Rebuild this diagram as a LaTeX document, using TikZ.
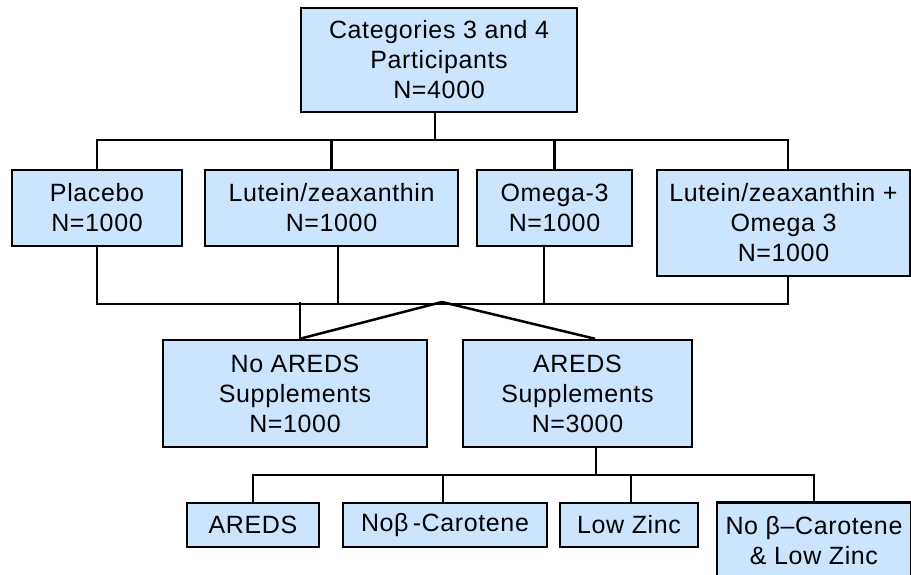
\documentclass[tikz,border=0pt]{standalone}
\usepackage{fontspec}
\setmainfont{Liberation Sans}[LetterSpace=2.5]
\definecolor{boxfill}{RGB}{204,229,255}
\begin{document}
\begin{tikzpicture}[x=1pt,y=-1pt,
  box/.style={draw, line width=2.5pt, fill=boxfill, inner sep=0pt, align=center,
    font=\fontsize{25}{30}\selectfont},
  conn/.style={line width=2.5pt}]
\useasboundingbox (0,0) rectangle (911,575);
% level 1
\node[box, minimum width=276, minimum height=104] (top) at (439,60) {Categories 3 and 4\\Participants\\N=4000};
% level 2
\node[box, minimum width=170, minimum height=76] (placebo) at (97,208) {Placebo\\N=1000};
\node[box, minimum width=253, minimum height=76] (lutein) at (331.5,208) {Lutein/zeaxanthin\\N=1000};
\node[box, minimum width=155, minimum height=76] (omega) at (554.5,208) {Omega-3\\N=1000};
\node[box, minimum width=253, minimum height=106] (lzo) at (783.5,223) {Lutein/zeaxanthin +\\Omega 3\\N=1000};
% level 3
\node[box, minimum width=264, minimum height=107] (noareds) at (295,393.5) {No AREDS\\Supplements\\N=1000};
\node[box, minimum width=229, minimum height=107] (aredss) at (577.5,393.5) {AREDS\\Supplements\\N=3000};
% level 4
\node[box, minimum width=132, minimum height=44] (areds) at (253,525) {AREDS};
\node[box, minimum width=204, minimum height=44] (nob) at (445,525) {Noβ\,-Carotene};
\node[box, minimum width=138, minimum height=44] (lowzinc) at (629,525) {Low Zinc};
\node[box, minimum width=194, minimum height=77] (last) at (814,541) {No β–Carotene\\\& Low Zinc};
% connectors
\coordinate (bus1) at (0,140);
\coordinate (bus2) at (0,304);
\coordinate (bus3) at (0,475);
\coordinate (peak) at (442,302);
\draw[conn] ([xshift=-4]top.south) -- ([xshift=-4]top.south |- bus1);
\draw[conn] (placebo.north) |- ([xshift=4.5]lzo.north |- bus1) -- ([xshift=4.5]lzo.north);
\draw[conn] (lutein.north) -- (lutein.north |- bus1);
\draw[conn] (omega.north) -- (omega.north |- bus1);
\draw[conn] (placebo.south) |- ([xshift=4.5]lzo.south |- bus2) -- ([xshift=4.5]lzo.south);
\draw[conn] ([xshift=6.5]lutein.south) -- ([xshift=6.5]lutein.south |- bus2);
\draw[conn] ([xshift=-10.5]omega.south) -- ([xshift=-10.5]omega.south |- bus2);
\draw[conn] ([xshift=5]noareds.north) -- (peak) -- ([xshift=17.5]aredss.north);
\draw[conn] ([xshift=5]noareds.north) -- ([xshift=5]noareds.north |- peak);
\draw[conn] ([xshift=18.5]aredss.south) -- ([xshift=18.5]aredss.south |- bus3);
\draw[conn] (areds.north) |- (last.north |- bus3) -- (last.north);
\draw[conn] ([xshift=-2]nob.north) -- ([xshift=-2]nob.north |- bus3);
\draw[conn] ([xshift=2]lowzinc.north) -- ([xshift=2]lowzinc.north |- bus3);
\end{tikzpicture}
\end{document}
